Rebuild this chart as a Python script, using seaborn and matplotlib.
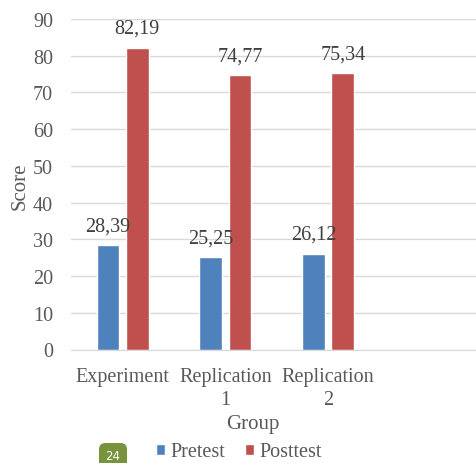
import pandas as pd
import seaborn as sns
import matplotlib.pyplot as plt

# values
groups = ["Experiment", "Replication\n1", "Replication\n2"]
pretest = [28.39, 25.25, 26.12]
posttest = [82.19, 74.77, 75.34]
series = ["Pretest", "Posttest"]
colors = ["#4F81BD", "#C0504D"]
yticks = [0, 10, 20, 30, 40, 50, 60, 70, 80, 90]

df = pd.DataFrame({
    "Group": groups * 2,
    "Test": [series[0]] * 3 + [series[1]] * 3,
    "Score": pretest + posttest,
})

sns.set_style("white")
serif = ["Liberation Serif", "DejaVu Serif"]
plt.rcParams["font.family"] = serif
grey = "#595959"
fs = 14.5

W, H = 476, 464
fig = plt.figure(figsize=(W / 100, H / 100), dpi=100)
left, right, top, bottom = 71.3, 476, 20, 350.5
ax = fig.add_axes([left / W, 1 - bottom / H, (right - left) / W, (bottom - top) / H])

sns.barplot(data=df, x="Group", y="Score", hue="Test", palette=colors,
            saturation=1, width=0.57, gap=0.225, errorbar=None, ax=ax, zorder=3)

# spacing per category ~102.75 px, one empty slot on the right
ax.set_xlim(-0.5, -0.5 + (right - left) / 102.75)
ax.set_ylim(0, 90)
ax.set_yticks(yticks)
ax.grid(axis="y", color="#D9D9D9", linewidth=1, zorder=0)
ax.grid(axis="x", visible=False)
for s in ["top", "right", "left"]:
    ax.spines[s].set_visible(False)
ax.spines["bottom"].set_color("#D9D9D9")
ax.spines["bottom"].set_zorder(4)
ax.tick_params(axis="both", length=0, labelsize=fs, colors=grey)
ax.tick_params(axis="y", pad=13)
ax.tick_params(axis="x", pad=12.5)
for lab in ax.get_xticklabels() + ax.get_yticklabels():
    lab.set_family(serif)
for lab in ax.get_xticklabels():
    lab.set_linespacing(1.27)

for cont in ax.containers:
    ax.bar_label(cont, labels=[f"{v:.2f}".replace(".", ",") for v in cont.datavalues],
                 padding=7, fontsize=fs, color="#404040", family=serif)

ax.set_xlabel("")
ax.set_ylabel("")
fig.text(20 / W, 1 - 186 / H, "Score", rotation=90, ha="center", va="center",
         fontsize=15, color=grey, family=serif)
fig.text(253 / W, 1 - 424 / H, "Group", ha="center", va="center",
         fontsize=15, color=grey, family=serif)

leg = ax.legend(loc="center", bbox_to_anchor=(239 / W, 1 - 453 / H),
                bbox_transform=fig.transFigure, ncol=2, frameon=False,
                prop={"family": serif, "size": fs}, labelcolor=grey,
                handlelength=0.45, handleheight=0.5, handletextpad=0.25,
                columnspacing=1.0, borderpad=0)
for t in leg.get_texts():
    t.set_family(serif)
    t.set_fontsize(fs)

# page number badge at the bottom edge
fig.text(113 / W, 1 - 457 / H, "24", ha="center", va="center", fontsize=8.5,
         color="white", family="DejaVu Sans",
         bbox=dict(boxstyle="round,pad=0.55", fc="#77933C", ec="none"))

fig.savefig("out.png", dpi=100)
